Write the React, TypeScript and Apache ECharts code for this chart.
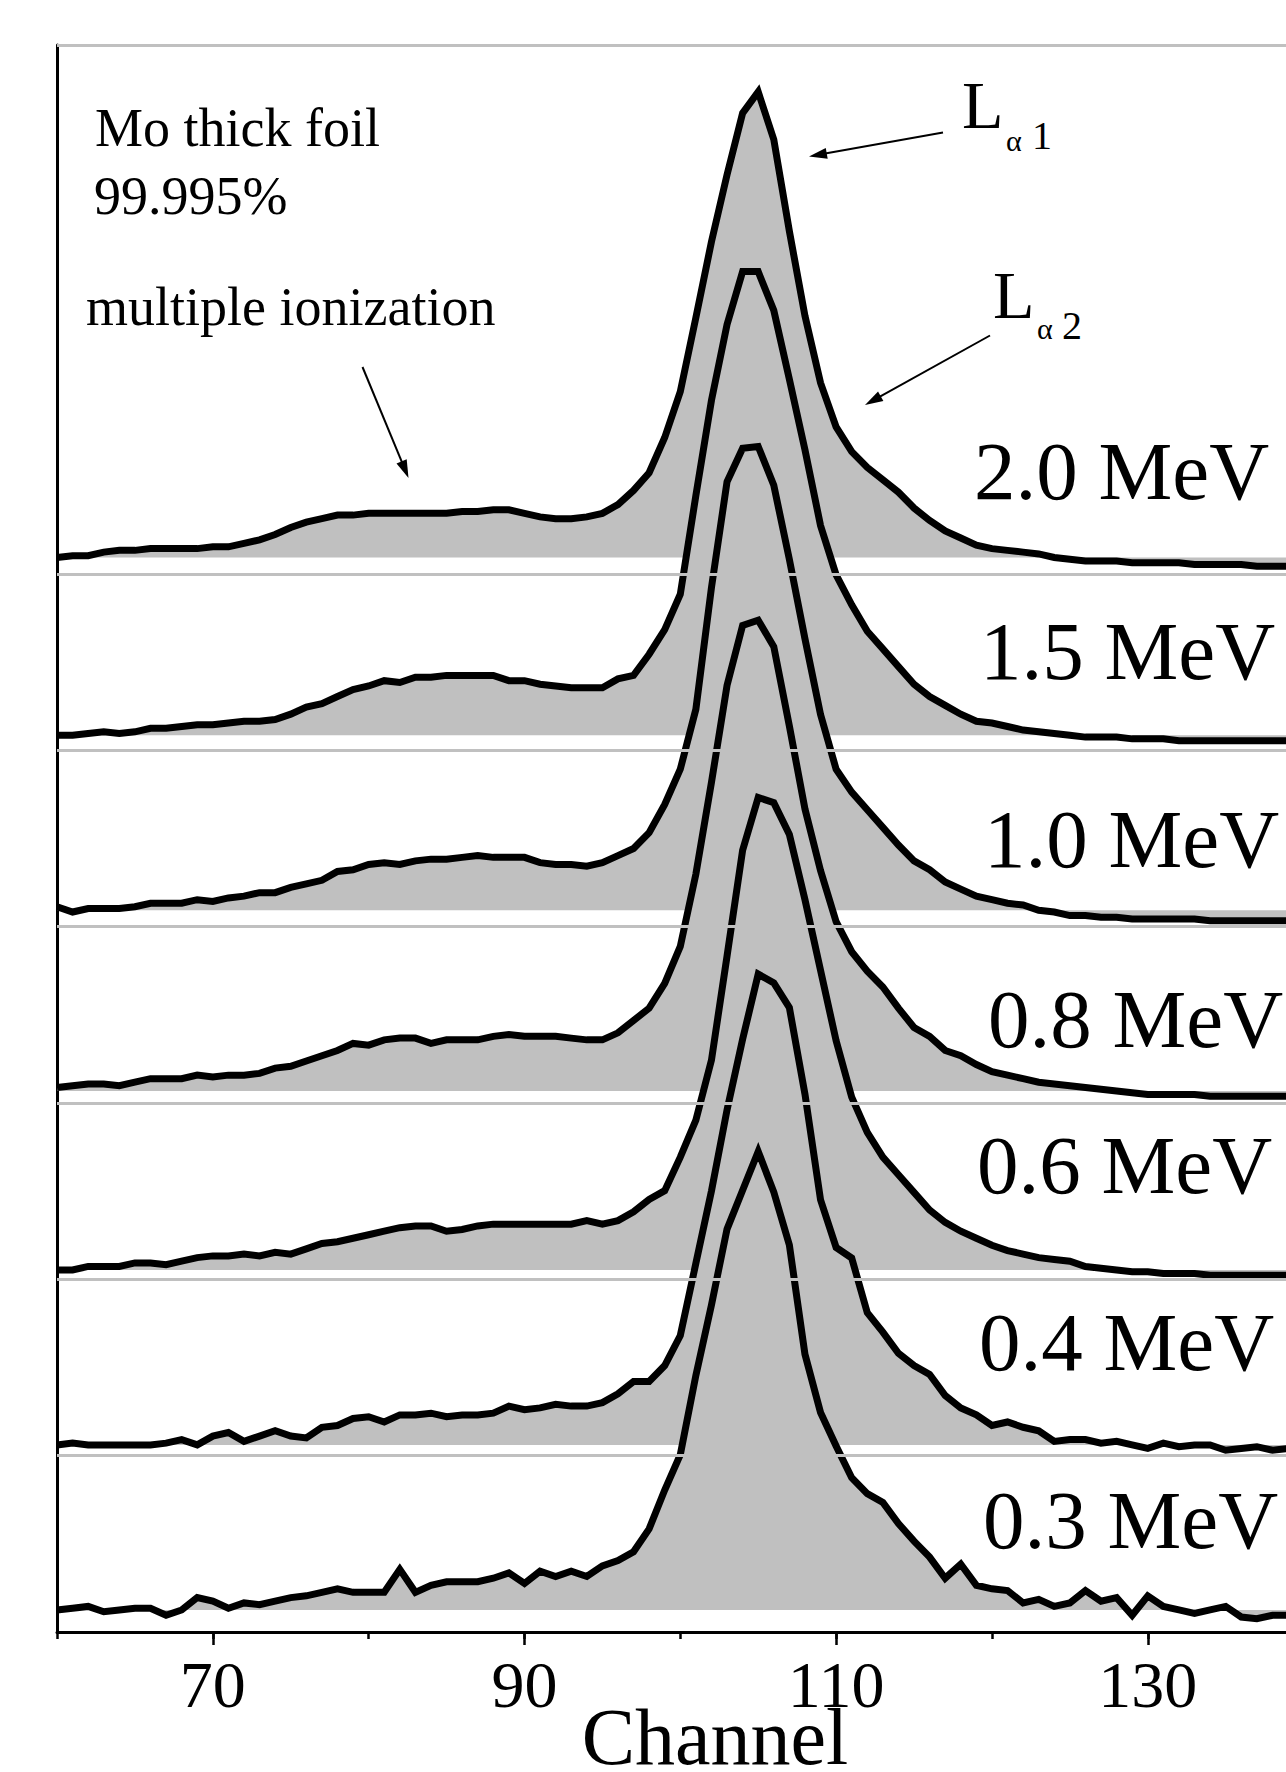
import React, { useEffect, useRef } from "react";
import * as echarts from "echarts";

// Channel numbers (x values)
const CHANNELS = [
  60, 61, 62, 63, 64, 65, 66, 67, 68, 69,
  70, 71, 72, 73, 74, 75, 76, 77, 78, 79,
  80, 81, 82, 83, 84, 85, 86, 87, 88, 89,
  90, 91, 92, 93, 94, 95, 96, 97, 98, 99,
  100, 101, 102, 103, 104, 105, 106, 107, 108, 109,
  110, 111, 112, 113, 114, 115, 116, 117, 118, 119,
  120, 121, 122, 123, 124, 125, 126, 127, 128, 129,
  130, 131, 132, 133, 134, 135, 136, 137, 138, 139,
];

// Normalised intensities (relative to each spectrum's own background level)
const MEV_20 = [
  0.0, 0.01, 0.01, 0.03, 0.04, 0.04, 0.05, 0.05, 0.05, 0.05,
  0.06, 0.06, 0.08, 0.1, 0.13, 0.17, 0.2, 0.22, 0.24, 0.24,
  0.25, 0.25, 0.25, 0.25, 0.25, 0.25, 0.26, 0.26, 0.27, 0.27,
  0.25, 0.23, 0.22, 0.22, 0.23, 0.25, 0.3, 0.38, 0.48, 0.68,
  0.94, 1.36, 1.79, 2.17, 2.52, 2.64, 2.37, 1.85, 1.37, 0.99,
  0.74, 0.6, 0.51, 0.44, 0.37, 0.28, 0.21, 0.15, 0.11, 0.07,
  0.05, 0.04, 0.03, 0.02, 0.0, -0.01, -0.02, -0.02, -0.02, -0.03,
  -0.03, -0.03, -0.03, -0.04, -0.04, -0.04, -0.04, -0.05, -0.05, -0.05,
];
const MEV_15 = [
  0.0, 0.0, 0.01, 0.02, 0.01, 0.02, 0.04, 0.04, 0.05, 0.06,
  0.06, 0.07, 0.08, 0.08, 0.09, 0.12, 0.16, 0.18, 0.22, 0.26,
  0.28, 0.31, 0.3, 0.33, 0.33, 0.34, 0.34, 0.34, 0.34, 0.31,
  0.31, 0.29, 0.28, 0.27, 0.27, 0.27, 0.32, 0.34, 0.46, 0.6,
  0.8, 1.36, 1.9, 2.33, 2.63, 2.63, 2.41, 2.02, 1.62, 1.19,
  0.91, 0.74, 0.59, 0.49, 0.39, 0.29, 0.22, 0.17, 0.12, 0.08,
  0.07, 0.05, 0.03, 0.02, 0.01, 0.0, -0.01, -0.01, -0.01, -0.02,
  -0.02, -0.02, -0.03, -0.03, -0.03, -0.03, -0.03, -0.03, -0.03, -0.03,
];
const MEV_10 = [
  0.02, -0.01, 0.01, 0.01, 0.01, 0.02, 0.04, 0.04, 0.04, 0.06,
  0.05, 0.07, 0.08, 0.1, 0.1, 0.13, 0.15, 0.17, 0.22, 0.23,
  0.26, 0.27, 0.26, 0.28, 0.29, 0.29, 0.3, 0.31, 0.3, 0.3,
  0.3, 0.27, 0.26, 0.26, 0.25, 0.27, 0.31, 0.35, 0.44, 0.6,
  0.8, 1.14, 1.83, 2.43, 2.62, 2.63, 2.41, 1.99, 1.54, 1.11,
  0.8, 0.67, 0.57, 0.47, 0.37, 0.28, 0.23, 0.16, 0.12, 0.08,
  0.06, 0.04, 0.03, 0.0, -0.01, -0.03, -0.03, -0.04, -0.04, -0.05,
  -0.05, -0.05, -0.05, -0.05, -0.06, -0.06, -0.06, -0.06, -0.06, -0.06,
];
const MEV_08 = [
  0.02, 0.03, 0.04, 0.04, 0.03, 0.05, 0.07, 0.07, 0.07, 0.09,
  0.08, 0.09, 0.09, 0.1, 0.13, 0.14, 0.17, 0.2, 0.23, 0.27,
  0.26, 0.29, 0.3, 0.3, 0.27, 0.29, 0.29, 0.29, 0.31, 0.32,
  0.31, 0.31, 0.31, 0.3, 0.29, 0.29, 0.33, 0.4, 0.47, 0.61,
  0.82, 1.23, 1.75, 2.3, 2.64, 2.67, 2.52, 2.07, 1.6, 1.25,
  0.96, 0.79, 0.68, 0.59, 0.47, 0.36, 0.31, 0.23, 0.2, 0.15,
  0.11, 0.09, 0.07, 0.05, 0.04, 0.03, 0.02, 0.01, 0.0, -0.01,
  -0.02, -0.02, -0.02, -0.02, -0.03, -0.03, -0.03, -0.03, -0.03, -0.03,
];
const MEV_06 = [
  0.0, 0.0, 0.02, 0.02, 0.02, 0.04, 0.04, 0.03, 0.05, 0.07,
  0.08, 0.08, 0.09, 0.08, 0.1, 0.09, 0.12, 0.15, 0.16, 0.18,
  0.2, 0.22, 0.24, 0.25, 0.25, 0.22, 0.23, 0.25, 0.26, 0.26,
  0.26, 0.26, 0.26, 0.26, 0.28, 0.26, 0.28, 0.33, 0.4, 0.45,
  0.64, 0.85, 1.19, 1.78, 2.38, 2.68, 2.65, 2.47, 2.1, 1.7,
  1.3, 0.98, 0.78, 0.64, 0.54, 0.44, 0.34, 0.27, 0.22, 0.18,
  0.14, 0.11, 0.09, 0.07, 0.06, 0.05, 0.02, 0.01, 0.0, -0.01,
  -0.01, -0.02, -0.02, -0.02, -0.03, -0.03, -0.03, -0.03, -0.03, -0.03,
];
const MEV_04 = [
  0.0, 0.01, 0.0, 0.0, 0.0, 0.0, 0.0, 0.01, 0.03, 0.0,
  0.05, 0.07, 0.02, 0.05, 0.08, 0.05, 0.04, 0.1, 0.11, 0.15,
  0.16, 0.13, 0.17, 0.17, 0.18, 0.16, 0.17, 0.17, 0.18, 0.22,
  0.2, 0.21, 0.23, 0.22, 0.22, 0.24, 0.29, 0.36, 0.36, 0.45,
  0.62, 1.03, 1.44, 1.9, 2.3, 2.67, 2.62, 2.48, 1.99, 1.39,
  1.12, 1.06, 0.75, 0.64, 0.52, 0.45, 0.4, 0.28, 0.21, 0.17,
  0.11, 0.13, 0.1, 0.08, 0.02, 0.03, 0.03, 0.01, 0.02, 0.0,
  -0.02, 0.01, -0.01, 0.0, 0.0, -0.03, -0.02, -0.01, -0.03, -0.02,
];
const MEV_03 = [
  0.0, 0.01, 0.02, -0.01, 0.0, 0.01, 0.01, -0.03, 0.0, 0.07,
  0.05, 0.01, 0.04, 0.03, 0.05, 0.07, 0.08, 0.1, 0.12, 0.1,
  0.1, 0.1, 0.23, 0.1, 0.14, 0.16, 0.16, 0.16, 0.18, 0.21,
  0.15, 0.22, 0.19, 0.22, 0.19, 0.25, 0.28, 0.33, 0.46, 0.68,
  0.88, 1.33, 1.73, 2.16, 2.38, 2.6, 2.37, 2.07, 1.45, 1.12,
  0.93, 0.75, 0.66, 0.61, 0.49, 0.39, 0.3, 0.18, 0.26, 0.14,
  0.12, 0.11, 0.04, 0.06, 0.02, 0.04, 0.11, 0.05, 0.07, -0.03,
  0.08, 0.02, 0.0, -0.02, 0.0, 0.02, -0.04, -0.05, -0.03, -0.03,
];

const ENERGY_LABELS = ["2.0 MeV", "1.5 MeV", "1.0 MeV", "0.8 MeV", "0.6 MeV", "0.4 MeV", "0.3 MeV"];
const SPECTRA = [MEV_20, MEV_15, MEV_10, MEV_08, MEV_06, MEV_04, MEV_03];
// Vertical offset (background level) of each stacked spectrum
const FILL_BASE = [6.094, 5.085, 4.093, 3.068, 2.053, 1.061, 0.125];
// Thin grey separator lines
const PANEL_LINES = [1, 2, 3, 4, 5, 6, 9];
const TICK_LABELS = [70, 90, 110, 130];

const FONT = '"Liberation Serif", "Times New Roman", serif';
const GREY = "#c0c0c0";

// Label placements (pixels) for annotations
const ENERGY_POS = [
  [974, 499.4],
  [980, 679],
  [984, 867.4],
  [988, 1047.3],
  [977, 1193],
  [979, 1370.3],
  [983, 1547.7],
];

function textEl(text: string, x: number, baseline: number, size: number) {
  return {
    type: "text",
    x,
    y: baseline - 0.3375 * size,
    z: 100,
    silent: true,
    style: {
      text,
      fontFamily: FONT,
      fontSize: size,
      fill: "#000",
      align: "left",
      verticalAlign: "middle",
    },
  };
}

function arrowEls(x1: number, y1: number, x2: number, y2: number) {
  const dx = x2 - x1;
  const dy = y2 - y1;
  const L = Math.hypot(dx, dy);
  const ux = dx / L;
  const uy = dy / L;
  const headLen = 18;
  const headW = 5.5;
  const bx = x2 - ux * headLen;
  const by = y2 - uy * headLen;
  const px = -uy;
  const py = ux;
  return [
    {
      type: "line",
      z: 100,
      silent: true,
      shape: { x1, y1, x2: bx + ux * 3, y2: by + uy * 3 },
      style: { stroke: "#000", lineWidth: 2 },
    },
    {
      type: "polygon",
      z: 100,
      silent: true,
      shape: {
        points: [
          [x2, y2],
          [bx + px * headW, by + py * headW],
          [bx - px * headW, by - py * headW],
        ],
      },
      style: { fill: "#000" },
    },
  ];
}

function buildOption() {
  const series: any[] = [];
  // grey separator lines
  series.push({
    type: "line",
    name: "separators",
    data: [],
    silent: true,
    z: 1,
    markLine: {
      silent: true,
      symbol: ["none", "none"],
      label: { show: false },
      lineStyle: { color: GREY, width: 3, type: "solid" },
      data: PANEL_LINES.map((v) => ({ yAxis: v })),
      animation: false,
    },
  });
  // grey filled areas, each down to its own background level
  SPECTRA.forEach((vals, i) => {
    const base = FILL_BASE[i];
    series.push({
      type: "line",
      name: "fill " + ENERGY_LABELS[i],
      data: CHANNELS.map((c, j) => [c, base + vals[j]]),
      symbol: "none",
      silent: true,
      lineStyle: { width: 0, opacity: 0 },
      areaStyle: { color: GREY, opacity: 1, origin: base },
      z: 2,
    });
  });
  // black spectrum outlines on top of all fills
  SPECTRA.forEach((vals, i) => {
    const base = FILL_BASE[i];
    series.push({
      type: "line",
      name: ENERGY_LABELS[i],
      data: CHANNELS.map((c, j) => [c, base + vals[j]]),
      symbol: "none",
      silent: true,
      lineStyle: { color: "#000", width: 7, join: "miter", cap: "butt", miterLimit: 10 },
      z: 4,
    });
  });

  const graphics: any[] = [
    textEl("Mo thick foil", 95, 146.6, 54),
    textEl("99.995%", 94, 214.3, 54),
    textEl("multiple ionization", 86, 325.3, 54),
    ...arrowEls(362.5, 367, 408.5, 478),
    textEl("L", 962, 128, 68),
    textEl("α", 1006, 151, 30),
    textEl("1", 1032, 149, 40),
    ...arrowEls(943, 132.5, 809, 156.5),
    textEl("L", 993, 318, 68),
    textEl("α", 1037, 339, 30),
    textEl("2", 1062, 339, 40),
    ...arrowEls(990, 335.5, 865, 405),
    ...ENERGY_LABELS.map((t, i) => textEl(t, ENERGY_POS[i][0], ENERGY_POS[i][1], 83)),
  ];

  return {
    animation: false,
    backgroundColor: "#fff",
    grid: { left: 57, top: 45, right: -2, bottom: 140, containLabel: false, outerBoundsMode: "none" },
    xAxis: [
      {
        type: "value",
        min: 60,
        max: 139,
        interval: 10,
        position: "bottom",
        axisLine: { show: true, onZero: false, lineStyle: { color: "#000", width: 3 } },
        axisTick: { show: true, length: 7, lineStyle: { color: "#000", width: 2.5 } },
        axisLabel: {
          show: true,
          customValues: TICK_LABELS,
          formatter: (v: number) => (TICK_LABELS.indexOf(v) >= 0 ? String(v) : ""),
          fontFamily: FONT,
          fontSize: 66,
          color: "#000",
          margin: 19,
        },
        splitLine: { show: false },
        name: "Channel",
        nameLocation: "middle",
        nameGap: 65,
        nameMoveOverlap: false,
        nameTextStyle: {
          fontFamily: FONT,
          fontSize: 80,
          color: "#000",
          padding: [0, 0, 0, 85],
        },
      },
      {
        type: "value",
        min: 60,
        max: 139,
        interval: 10,
        position: "bottom",
        offset: 0,
        axisLine: { show: false },
        axisTick: {
          show: true,
          customValues: TICK_LABELS,
          length: 13,
          lineStyle: { color: "#000", width: 2.5 },
        },
        axisLabel: { show: false },
        splitLine: { show: false },
      },
    ],
    yAxis: {
      type: "value",
      min: 0,
      max: 9,
      axisLine: { show: true, onZero: false, lineStyle: { color: "#000", width: 3 } },
      axisTick: { show: false },
      axisLabel: { show: false },
      splitLine: { show: false },
    },
    series,
    graphic: graphics,
  };
}

export default function App() {
  const ref = useRef<HTMLDivElement>(null);
  useEffect(() => {
    if (!ref.current) return;
    const chart = echarts.init(ref.current, null, { renderer: "svg" });
    chart.setOption(buildOption() as any);
    return () => chart.dispose();
  }, []);
  return (
    <div
      ref={ref}
      style={{ position: "absolute", left: 0, top: 0, width: 1286, height: 1772, background: "#fff" }}
    />
  );
}
